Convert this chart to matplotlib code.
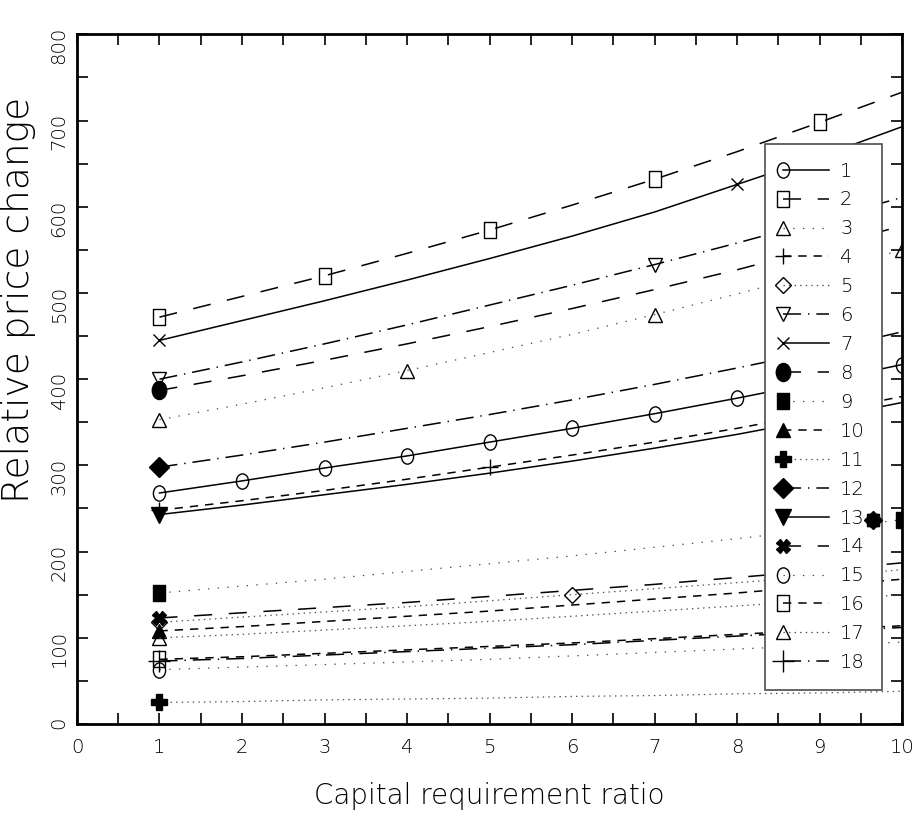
import numpy as np
import matplotlib
matplotlib.use("Agg")
import matplotlib.pyplot as plt
from matplotlib.path import Path
from matplotlib.transforms import Affine2D
from matplotlib.legend_handler import HandlerLine2D

plt.rcParams['font.family'] = ['DejaVu Sans']
plt.rcParams['font.weight'] = 'light'
plt.rcParams['axes.labelweight'] = 'light'
plt.rcParams['lines.scale_dashes'] = False

# capital requirement ratio
x = [1, 2, 3, 4, 5, 6, 7, 8, 9, 10]

# relative price change, one list per series
s1 = [268, 282, 297, 311, 327, 343, 360, 378, 397, 417]
s2 = [472, 496, 520, 546, 573, 602, 632, 664, 698, 733]
s3 = [353, 371, 390, 410, 431, 452, 475, 499, 524, 550]
s4 = [248, 259, 271, 284, 298, 312, 327, 343, 361, 380]
s5 = [118, 124, 130, 136, 143, 150, 157, 164, 171, 179]
s6 = [400, 420, 441, 463, 486, 509, 533, 558, 584, 611]
s7 = [445, 468, 491, 515, 540, 566, 594, 626, 658, 693]
s8 = [387, 404, 422, 441, 461, 482, 504, 527, 552, 578]
s9 = [152, 160, 168, 177, 186, 195, 205, 215, 226, 237]
s10 = [108, 113, 119, 125, 131, 138, 145, 152, 160, 168]
s11 = [25, 26, 28, 29, 30, 32, 33, 35, 36, 38]
s12 = [298, 312, 327, 343, 359, 376, 394, 413, 433, 455]
s13 = [243, 254, 266, 278, 291, 305, 320, 336, 354, 373]
s14 = [123, 129, 135, 141, 148, 155, 162, 170, 178, 187]
s15 = [63, 66, 69, 72, 75, 79, 83, 87, 91, 95]
s16 = [75, 78, 82, 86, 90, 94, 99, 104, 109, 114]
s17 = [100, 104, 109, 114, 119, 125, 131, 137, 143, 150]
s18 = [73, 76, 80, 84, 88, 92, 97, 102, 107, 112]
series = [s1, s2, s3, s4, s5, s6, s7, s8, s9, s10, s11, s12, s13, s14, s15, s16, s17, s18]
names = [str(i) for i in range(1, 19)]

# stray overlapping markers near the right edge
stray_x = [9.65]
stray_y = [237]

ellipse = Path.unit_circle().transformed(Affine2D().scale(0.8, 1.0))
rect = Path([(-0.75, -1), (0.75, -1), (0.75, 1), (-0.75, 1), (-0.75, -1)],
            [Path.MOVETO, Path.LINETO, Path.LINETO, Path.LINETO, Path.CLOSEPOLY])

solid = '-'
long_dash = (0, (13, 12))
sparse_dot = (0, (1, 6))
short_dash = (0, (6, 5))
dense_dot = (0, (1, 3))
dash_dot = (0, (13, 5, 1, 5))
line_styles = [solid, long_dash, sparse_dot, short_dash, dense_dot, dash_dot] * 3

# marker, filled, size
markers = [
    (ellipse, False, 11), (rect, False, 12), ('^', False, 10), ('+', False, 11),
    ('D', False, 8), ('v', False, 10), ('x', False, 9), (ellipse, True, 13),
    (rect, True, 12), ('^', True, 10), ('P', True, 11), ('D', True, 10),
    ('v', True, 11), ('X', True, 10), (ellipse, False, 11), (rect, False, 12),
    ('^', False, 10), ('+', False, 16),
]


class MarkerLeft(HandlerLine2D):
    def create_artists(self, legend, orig_handle, xdescent, ydescent, width, height, fontsize, trans):
        arts = super().create_artists(legend, orig_handle, xdescent, ydescent, width, height, fontsize, trans)
        for a in arts:
            xd = a.get_xdata()
            if len(xd) == 3:
                a.set_markevery([0])
            elif len(xd) == 1:
                a.set_xdata([-xdescent])
        return arts


fig = plt.figure(figsize=(9.16, 8.19), dpi=100)
ax = fig.add_axes([0.084, 0.116, 0.901, 0.842])

handles = []
for i, ys in enumerate(series):
    m, filled, ms = markers[i]
    ls = line_styles[i]
    dotted = ls in (sparse_dot, dense_dot)
    h, = ax.plot(x, ys, color='0.3' if dotted else 'black', linestyle=ls,
                 linewidth=0.9 if dotted else 1.1,
                 marker=m, markersize=ms, markevery=i + 1,
                 markerfacecolor='black' if filled else 'none',
                 markeredgecolor='black', markeredgewidth=1.0,
                 label=names[i])
    handles.append(h)

for m in ['^', 'P', 'D', 'v', 'X', 's']:
    ax.plot(stray_x, stray_y, linestyle='none', marker=m, markersize=9,
            color='black', zorder=6)

ax.set_xlim(0, 10)
ax.set_ylim(0, 800)
ax.set_xticks(np.arange(0, 11, 1))
ax.set_xticks(np.arange(0, 10.5, 0.5), minor=True)
ax.set_yticks(np.arange(0, 801, 100))
ax.set_yticks(np.arange(0, 801, 50), minor=True)
ax.tick_params(which='both', direction='in', top=True, right=True,
               length=8, width=1.2, labelsize=14)
ax.tick_params(axis='y', labelrotation=90, pad=6)
ax.tick_params(axis='x', pad=10)
for sp in ax.spines.values():
    sp.set_linewidth(2)

ax.set_xlabel('Capital requirement ratio', fontsize=20, labelpad=18)
ax.set_ylabel('Relative price change', fontsize=27)
ax.yaxis.set_label_coords(-0.05, 0.615)

leg = ax.legend(handles=handles, loc='upper left', bbox_to_anchor=(0.834, 0.841),
                borderaxespad=0, fontsize=14, handlelength=2.4, handletextpad=0.55,
                labelspacing=0.51, borderpad=0.9, fancybox=False, framealpha=1,
                edgecolor='0.3', handler_map={plt.Line2D: MarkerLeft()})
leg.get_frame().set_linewidth(1.2)

fig.savefig('out.png', dpi=100)
